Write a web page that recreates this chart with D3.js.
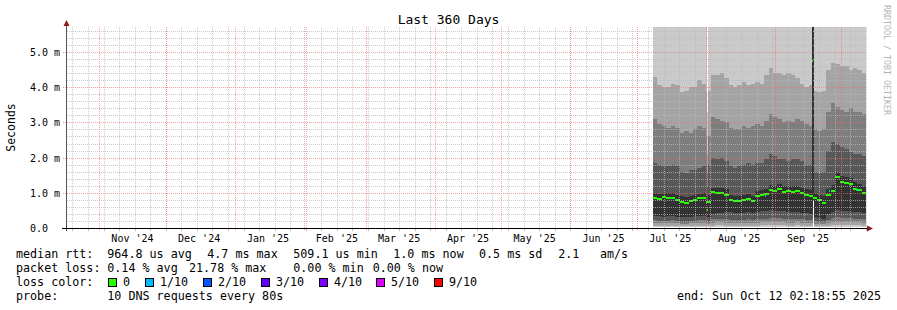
<!DOCTYPE html>
<html><head><meta charset="utf-8">
<script src="https://cdn.jsdelivr.net/npm/d3@7"></script>
<style>
body{margin:0;background:#fff}
svg{display:block}
text{font-family:"DejaVu Sans Mono",monospace;fill:#000}
</style>
</head><body><svg id="c" width="897" height="310"></svg>
<script>
// ---------- chart data ----------
const title = "Last 360 Days";
const yLabel = "Seconds";
const endTime = "2025-10-12T02:18:55Z";
const spanDays = 360;
const yMaxMs = 5.71;
const yTickValues = [0, 1, 2, 3, 4, 5];
const yTickLabels = ["0.0", "1.0 m", "2.0 m", "3.0 m", "4.0 m", "5.0 m"];
const xTickLabels = ["Nov '24", "Dec '24", "Jan '25", "Feb '25", "Mar '25", "Apr '25", "May '25", "Jun '25", "Jul '25", "Aug '25", "Sep '25"];

// smoke data: 2-day bins starting at dataStart (ms)
const dataStart = "2025-07-08T06:00:00Z";
const binDays = 2;
const p1 = [0.02,0.02,0.02,0.02,0.02,0.02,0.02,0.02,0.02,0.02,0.02,0.02,0.02,0.03,0.03,0.03,
            0.03,0.03,0.03,0.03,0.03,0.03,0.03,0.03,0.03,0.03,0.03,0.03,0.03,0.03,0.03,0.03,
            0.03,0.03,0.03,0.02,0.02,0.02,0.02,0.03,0.03,0.03,0.03,0.03,0.03,0.03,0.03,0.03];
const p2 = [0.07,0.06,0.06,0.06,0.07,0.06,0.06,0.06,0.06,0.06,0.07,0.07,0.06,0.07,0.08,0.08,
            0.07,0.07,0.07,0.07,0.07,0.07,0.07,0.07,0.08,0.08,0.08,0.08,0.08,0.08,0.07,0.07,
            0.08,0.07,0.07,0.07,0.06,0.05,0.05,0.07,0.08,0.09,0.08,0.08,0.08,0.08,0.08,0.07];
const p3 = [0.14,0.13,0.13,0.13,0.14,0.13,0.12,0.12,0.13,0.13,0.14,0.14,0.12,0.15,0.16,0.16,
            0.15,0.15,0.15,0.14,0.15,0.15,0.15,0.15,0.16,0.16,0.17,0.16,0.16,0.16,0.15,0.15,
            0.16,0.15,0.15,0.14,0.12,0.11,0.11,0.15,0.16,0.18,0.17,0.17,0.16,0.16,0.16,0.15];
const p4 = [0.22,0.20,0.20,0.20,0.22,0.20,0.18,0.18,0.20,0.20,0.22,0.22,0.18,0.25,0.26,0.26,
            0.25,0.24,0.24,0.23,0.24,0.25,0.24,0.25,0.26,0.26,0.28,0.27,0.27,0.26,0.25,0.25,
            0.26,0.25,0.24,0.23,0.20,0.18,0.17,0.24,0.27,0.30,0.28,0.28,0.27,0.26,0.26,0.25];
const p5 = [0.35,0.33,0.32,0.33,0.35,0.32,0.30,0.30,0.32,0.33,0.35,0.35,0.30,0.40,0.42,0.42,
            0.45,0.45,0.43,0.42,0.43,0.45,0.42,0.45,0.47,0.47,0.50,0.48,0.48,0.47,0.45,0.45,
            0.45,0.43,0.42,0.40,0.30,0.28,0.26,0.40,0.45,0.50,0.48,0.47,0.46,0.45,0.45,0.43];
const median = [0.85,0.82,0.87,0.85,0.86,0.80,0.74,0.72,0.78,0.80,0.84,0.86,0.75,1.02,1.00,1.00,
                0.95,0.80,0.78,0.77,0.80,0.82,0.76,0.90,0.93,0.98,1.08,1.05,1.10,1.02,1.04,1.02,
                1.05,1.00,0.95,0.92,0.85,0.80,0.72,0.95,1.05,1.45,1.30,1.28,1.25,1.12,1.08,1.00];
const p6 = [1.00,0.98,1.00,1.00,1.00,0.95,0.90,0.88,0.92,0.95,0.98,1.00,0.95,1.15,1.15,1.15,
            1.10,0.95,0.92,0.92,0.95,0.98,0.92,1.05,1.08,1.12,1.22,1.20,1.25,1.18,1.20,1.18,
            1.20,1.15,1.10,1.08,1.00,0.95,0.90,1.10,1.22,1.60,1.48,1.45,1.42,1.30,1.25,1.18];
const p7 = [1.85,1.80,1.75,1.75,1.80,1.75,1.60,1.55,1.65,1.65,1.70,1.75,1.80,2.00,1.95,2.00,
            1.90,1.75,1.70,1.75,1.80,1.85,1.80,1.85,1.85,1.95,2.10,2.05,1.95,1.95,1.90,1.95,
            1.95,1.90,1.80,1.80,1.60,1.55,1.60,2.20,2.45,2.40,2.30,2.25,2.15,2.10,2.10,2.05];
const p8 = [3.10,2.95,2.90,2.85,2.90,2.85,2.70,2.75,2.70,2.80,2.90,2.85,2.60,3.15,3.10,3.05,
            3.00,2.85,2.80,2.80,2.90,2.85,2.90,2.95,2.90,3.05,3.25,3.15,3.10,3.00,3.05,3.00,
            3.10,3.05,2.95,2.90,2.80,2.75,2.80,3.30,3.55,3.45,3.35,3.30,3.40,3.30,3.30,3.25];
const p9 = [4.30,4.05,4.00,4.00,4.10,4.05,3.85,3.90,4.00,4.00,4.20,4.10,3.90,4.35,4.35,4.40,
            4.25,4.05,4.00,4.05,4.15,4.05,4.10,4.15,4.10,4.35,4.55,4.40,4.40,4.35,4.40,4.35,
            4.25,4.10,4.00,4.05,3.90,3.85,3.90,4.50,4.70,4.65,4.60,4.60,4.50,4.55,4.50,4.40];
const p10 = [6.2,6.1,6.0,6.1,6.2,6.0,5.9,6.0,6.1,6.0,6.2,6.1,6.0,6.4,6.3,6.4,
             6.2,6.0,6.0,6.1,6.2,6.1,6.1,6.2,6.1,6.3,6.5,6.4,6.4,6.3,6.4,6.3,
             6.2,6.1,6.0,6.1,5.9,5.9,6.0,6.5,6.7,6.6,6.6,6.6,6.5,6.5,6.5,6.4];

// single-step outliers (one rrd step each)
const eventTimes  = ["2025-08-01T13:00:00Z", "2025-09-17T19:10:00Z", "2025-09-18T06:00:00Z"];
const eventP1     = [0.03, 0.03, 0.76];
const eventP2     = [0.08, 0.08, 0.76];
const eventP3     = [0.15, 0.15, 0.76];
const eventP4     = [0.22, 0.25, 0.76];
const eventP5     = [0.30, 0.40, 0.76];
const eventMedian = [0.50, 4.73, null];
const eventP6     = [0.80, 7.0, 7.0];
const eventP7     = [1.20, 7.0, 7.0];
const eventP8     = [1.60, 7.0, 7.0];
const eventP9     = [2.10, 7.0, 7.0];
const eventP10    = [3.30, 7.0, 7.0];

// steps with 1/10 packet loss
const lossTimes  = ["2025-07-18T03:30:00Z", "2025-08-15T01:00:00Z", "2025-08-27T15:30:00Z", "2025-09-25T10:45:00Z", "2025-10-07T14:20:00Z"];
const lossMedian = [0.80, 0.80, 0.90, 1.04, 1.09];

// legend
const legendRtt  = [["median rtt:", 16], ["964.8 us avg", 107.3], ["4.7 ms max", 207.3], ["509.1 us min", 293.3], ["1.0 ms now", 393.3], ["0.5 ms sd", 479], ["2.1", 558.3], ["am/s", 600]];
const legendLoss = [["packet loss:", 16], ["0.14 % avg", 107.3], ["21.78 % max", 189], ["0.00 % min", 293.3], ["0.00 % now", 372.7]];
const lossLabels = ["0", "1/10", "2/10", "3/10", "4/10", "5/10", "9/10"];
const lossColors = ["#26ff00", "#00b8ff", "#0059ff", "#5e00ff", "#7e00ff", "#dd00ff", "#ff0000"];
const lossBoxX   = [108, 145, 203, 261, 319, 376, 434];
const probeText  = "10 DNS requests every 80s";
const endText    = "end: Sun Oct 12 02:18:55 2025";
const watermark  = "RRDTOOL / TOBI OETIKER";

// ---------- drawing ----------
const smokeColors = ["#cacaca", "#a4a4a4", "#7e7e7e", "#585858", "#323232"];
const svg = d3.select("#c");
const T1 = new Date(endTime);
const T0 = new Date(+T1 - spanDays * 864e5);
const stepMs = spanDays * 864e5 / 800;
const x = d3.scaleUtc().domain([T0, T1]).range([66, 866]);
const y = d3.scaleLinear().domain([0, yMaxMs]).range([228, 27]);

svg.append("rect").attr("width", 897).attr("height", 310).attr("fill", "#fff");
svg.append("defs").append("clipPath").attr("id", "clip")
  .append("rect").attr("x", 66).attr("y", 27).attr("width", 800).attr("height", 201);

const plot = svg.append("g").attr("clip-path", "url(#clip)");

function columns(times, widthMs, P, med) {
  const rects = [], meds = [];
  times.forEach((t, i) => {
    const ta = new Date(t), tb = new Date(+ta + widthMs);
    const xa = Math.round(x(ta)), xb = Math.round(x(tb));
    if (xb <= xa) return;
    rects.push({x: xa, w: xb - xa, y: 0, h: 228, c: "#fff"});
    for (let k = 0; k < 5; k++) {
      const lo = P[k][i], hi = P[9 - k][i];
      const ya = Math.round(y(hi)), yb = Math.round(y(lo));
      if (yb > ya) rects.push({x: xa, w: xb - xa, y: ya, h: yb - ya, c: smokeColors[k]});
    }
    if (med && med[i] != null) meds.push({x: xa, w: xb - xa, y: Math.round(y(med[i])) - 1, h: 2});
  });
  return {rects, meds};
}

const binTimes = p1.map((_, i) => new Date(+new Date(dataStart) + i * binDays * 864e5));
const bins = columns(binTimes, binDays * 864e5, [p1, p2, p3, p4, p5, p6, p7, p8, p9, p10], median);
const evs = columns(eventTimes, stepMs,
  [eventP1, eventP2, eventP3, eventP4, eventP5, eventP6, eventP7, eventP8, eventP9, eventP10], eventMedian);

function drawRects(list) {
  plot.append("g").selectAll("rect").data(list).join("rect")
    .attr("x", d => d.x).attr("y", d => d.y).attr("width", d => d.w).attr("height", d => d.h)
    .attr("fill", d => d.c).attr("shape-rendering", "crispEdges");
}
drawRects(bins.rects.filter(d => d.c !== "#fff"));
drawRects(evs.rects);
plot.append("g").selectAll("rect").data(bins.meds.concat(evs.meds)).join("rect")
  .attr("x", d => d.x).attr("y", d => d.y).attr("width", d => d.w).attr("height", d => d.h)
  .attr("fill", lossColors[0]).attr("shape-rendering", "crispEdges");
plot.append("g").selectAll("rect").data(lossTimes).join("rect")
  .attr("x", d => Math.round(x(new Date(d)))).attr("width", 1)
  .attr("y", (d, i) => Math.round(y(lossMedian[i])) - 1).attr("height", 2)
  .attr("fill", lossColors[1]).attr("shape-rendering", "crispEdges");

// grid (on top)
const grid = svg.append("g").attr("shape-rendering", "crispEdges");
const minorH = d3.range(1, 29).map(k => +(k * 0.2).toFixed(1)).filter(v => Math.abs(v - Math.round(v)) > 1e-6);
const majorH = [1, 2, 3, 4, 5];
const weeks = d3.utcSunday.range(T0, T1);
const months = d3.utcMonth.range(d3.utcMonth.ceil(T0), T1);
const minorCol = "rgba(185,185,185,0.75)", majorCol = "rgba(240,110,110,0.65)";
grid.selectAll(".mh").data(minorH).join("line").attr("class", "mh")
  .attr("x1", 67).attr("x2", 866).attr("y1", d => Math.round(y(d)) + 0.5).attr("y2", d => Math.round(y(d)) + 0.5)
  .attr("stroke", minorCol).attr("stroke-dasharray", "1,1");
grid.selectAll(".mv").data(weeks).join("line").attr("class", "mv")
  .attr("x1", d => Math.round(x(d)) + 0.5).attr("x2", d => Math.round(x(d)) + 0.5).attr("y1", 27).attr("y2", 228)
  .attr("stroke", minorCol).attr("stroke-dasharray", "1,1");
grid.selectAll(".Mh").data(majorH).join("line").attr("class", "Mh")
  .attr("x1", 63).attr("x2", 866).attr("y1", d => Math.round(y(d)) + 0.5).attr("y2", d => Math.round(y(d)) + 0.5)
  .attr("stroke", majorCol).attr("stroke-dasharray", "1,1");
grid.selectAll(".Mv").data(months).join("line").attr("class", "Mv")
  .attr("x1", d => Math.round(x(d)) + 0.5).attr("x2", d => Math.round(x(d)) + 0.5).attr("y1", 27).attr("y2", 231)
  .attr("stroke", majorCol).attr("stroke-dasharray", "1,1");
// small ticks on x axis
grid.selectAll(".wt").data(weeks).join("line").attr("class", "wt")
  .attr("x1", d => Math.round(x(d)) + 0.5).attr("x2", d => Math.round(x(d)) + 0.5).attr("y1", 229).attr("y2", 231)
  .attr("stroke", "#bbb");

// axes
const axes = svg.append("g").attr("shape-rendering", "crispEdges");
axes.append("line").attr("x1", 66.5).attr("x2", 66.5).attr("y1", 24).attr("y2", 231).attr("stroke", "#555");
axes.append("line").attr("x1", 62).attr("x2", 868).attr("y1", 228.5).attr("y2", 228.5).attr("stroke", "#000");
svg.append("path").attr("d", "M63.5,26 L69.5,26 L66.5,20 Z").attr("fill", "#8b1a1a");
svg.append("path").attr("d", "M867,225.5 L867,231.5 L873,228.5 Z").attr("fill", "#8b1a1a");

// y tick labels
svg.append("g").selectAll("text").data(yTickValues).join("text")
  .attr("x", 30).attr("y", d => Math.round(y(d)) + 4)
  .attr("font-size", "10px").text((d, i) => yTickLabels[i]);

// x tick labels
const labelMonths = d3.utcMonth.range(d3.utcMonth.ceil(T0), T1).slice(0, xTickLabels.length);
svg.append("g").selectAll("text").data(labelMonths).join("text")
  .attr("x", d => x(d3.utcDay.offset(d, 15))).attr("y", 241.5)
  .attr("text-anchor", "middle").attr("font-size", "10px").text((d, i) => xTickLabels[i]);

// title, axis label, watermark
svg.append("text").attr("x", 448.5).attr("y", 24).attr("text-anchor", "middle").attr("font-size", "13px").text(title);
svg.append("text").attr("transform", "translate(15,127.5) rotate(-90)").attr("text-anchor", "middle")
  .attr("font-size", "11.5px").text(yLabel);
svg.append("text").attr("transform", "translate(884,5) rotate(90)").attr("font-size", "8.3px")
  .style("fill", "#b4b4b4").text(watermark);

// legend
const leg = svg.append("g").attr("font-size", "11.7px").attr("xml:space", "preserve");
legendRtt.forEach(([t, lx]) => leg.append("text").attr("x", lx).attr("y", 258).text(t));
legendLoss.forEach(([t, lx]) => leg.append("text").attr("x", lx).attr("y", 272).text(t));
leg.append("text").attr("x", 16).attr("y", 286).text("loss color:");
lossLabels.forEach((t, i) => {
  leg.append("rect").attr("x", lossBoxX[i] + 0.5).attr("y", 278.5).attr("width", 8).attr("height", 8)
    .attr("fill", lossColors[i]).attr("stroke", "#000").attr("stroke-width", 1).attr("shape-rendering", "crispEdges");
  leg.append("text").attr("x", lossBoxX[i] + 15).attr("y", 286).text(t);
});
leg.append("text").attr("x", 16).attr("y", 300).text("probe:");
leg.append("text").attr("x", 107.3).attr("y", 300).text(probeText);
leg.append("text").attr("x", 881).attr("y", 300).attr("text-anchor", "end").text(endText);
</script>
</body></html>
